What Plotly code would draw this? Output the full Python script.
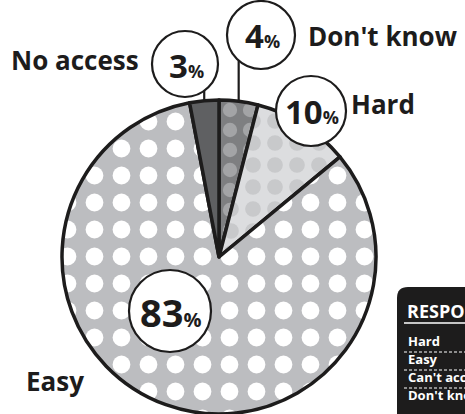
import math
import plotly.graph_objects as go

# Survey responses, listed clockwise from 12 o'clock
labels = ["Don't know", "Hard", "Easy", "No access"]
values = [4, 10, 83, 3]

# Table rows shown in the legend box
table_header = "RESPONSE"
table_rows = ["Hard", "Easy", "Can't access", "Don't know"]

W, H = 465, 414
CX, CY, R = 219, 257, 157  # pie centre / radius in pixels

colors = ["#7e7f81", "#dcdddf", "#bcbdc0", "#5f6062"]
pat_fg = ["#a3a4a6", "#c8c9cb", "#ffffff", "#5f6062"]
pat_shape = [".", ".", ".", ""]
pat_size = [20, 22, 27, 10]
pat_solid = [0.4, 0.4, 0.34, 0.1]

FONT = "Open Sans"
INK = "#1d1c1c"


def px(x):
    return x / W


def py(y):
    return 1 - y / H


fig = go.Figure()
fig.add_trace(go.Pie(
    labels=labels,
    values=values,
    sort=False,
    direction="clockwise",
    rotation=0,
    textinfo="none",
    hoverinfo="label+percent",
    showlegend=False,
    marker=dict(
        colors=colors,
        line=dict(color=INK, width=3.5),
        pattern=dict(shape=pat_shape, fgcolor=pat_fg, bgcolor=colors,
                     fgopacity=1, size=pat_size, solidity=pat_solid,
                     fillmode="replace"),
    ),
    domain=dict(x=[px(CX - R), px(CX + R)], y=[0, (2 * R) / H]),
))

total = sum(values)


def mid_angle(name):
    i = labels.index(name)
    start = sum(values[:i])
    return (start + values[i] / 2) / total * 2 * math.pi


# value bubbles: (label, circle centre x, y, radius, number font size)
bubbles = [
    ("No access", 185, 64, 33, 33),
    ("Don't know", 261, 35, 34, 33),
    ("Hard", 311, 111, 35, 33),
    ("Easy", 170, 311, 41, 38),
]

shapes = []
annotations = []
for name, bx, by, br, fs in bubbles:
    v = values[labels.index(name)]
    a = mid_angle(name)
    ex = CX + R * math.sin(a)
    ey = CY - R * math.cos(a)
    # leader line from the slice edge up to the bubble
    if name in ("No access", "Don't know"):
        dx = ex - bx
        top = by + math.sqrt(max(br * br - dx * dx, 0))
        shapes.append(dict(type="line", xref="paper", yref="paper",
                           x0=px(ex), x1=px(ex), y0=py(ey), y1=py(top),
                           line=dict(color=INK, width=2.2), layer="above"))
    shapes.append(dict(type="circle", xref="paper", yref="paper",
                       x0=px(bx - br), x1=px(bx + br),
                       y0=py(by + br), y1=py(by - br),
                       fillcolor="white", line=dict(color=INK, width=2.2),
                       layer="above"))
    annotations.append(dict(
        x=px(bx + 1), y=py(by + 1), xref="paper", yref="paper",
        text=f"<b>{v}</b><span style='font-size:{int(fs * 0.55)}px'><b>%</b></span>",
        showarrow=False, xanchor="center", yanchor="middle",
        font=dict(family=FONT, size=fs, color=INK),
    ))

# category names next to the bubbles
name_pos = [
    ("No access", 141, 60, "right"),
    ("Don't know", 306, 36, "left"),
    ("Hard", 349, 104, "left"),
    ("Easy", 24, 381, "left"),
]
for name, x, y, anchor in name_pos:
    annotations.append(dict(
        x=px(x), y=py(y), xref="paper", yref="paper", text=f"<b>{name}</b>",
        showarrow=False, xanchor=anchor, yanchor="middle",
        font=dict(family=FONT, size=26, color=INK),
    ))

# legend table box in the lower right
bx0, by0, rad = 397, 287, 11
bx1, by1 = 520, 460
path = (f"M {px(bx0)},{py(by1)} L {px(bx0)},{py(by0 + rad)} "
        f"Q {px(bx0)},{py(by0)} {px(bx0 + rad)},{py(by0)} "
        f"L {px(bx1)},{py(by0)} L {px(bx1)},{py(by1)} Z")
shapes.append(dict(type="path", xref="paper", yref="paper", path=path,
                   fillcolor=INK, line=dict(width=0), layer="above"))
annotations.append(dict(
    x=px(405), y=py(311), xref="paper", yref="paper", text=f"<b>{table_header}</b>",
    showarrow=False, xanchor="left", yanchor="middle",
    font=dict(family=FONT, size=18, color="white"),
))
shapes.append(dict(type="line", xref="paper", yref="paper",
                   x0=px(404), x1=px(480), y0=py(323), y1=py(323),
                   line=dict(color="white", width=1.5), layer="above"))
row_y = [341, 359, 377, 395]
for i, (label, y) in enumerate(zip(table_rows, row_y)):
    annotations.append(dict(
        x=px(406), y=py(y), xref="paper", yref="paper", text=f"<b>{label}</b>",
        showarrow=False, xanchor="left", yanchor="middle",
        font=dict(family=FONT, size=13, color="white"),
    ))
    if i < len(table_rows) - 1:
        ly = (y + row_y[i + 1]) / 2 + 2
        shapes.append(dict(type="line", xref="paper", yref="paper",
                           x0=px(404), x1=px(480), y0=py(ly), y1=py(ly),
                           line=dict(color="white", width=1, dash="3px,2px"),
                           layer="above"))

fig.update_layout(
    width=W, height=H,
    margin=dict(l=0, r=0, t=0, b=0),
    paper_bgcolor="white", plot_bgcolor="white",
    shapes=shapes, annotations=annotations,
)

fig.write_html("out.html")
